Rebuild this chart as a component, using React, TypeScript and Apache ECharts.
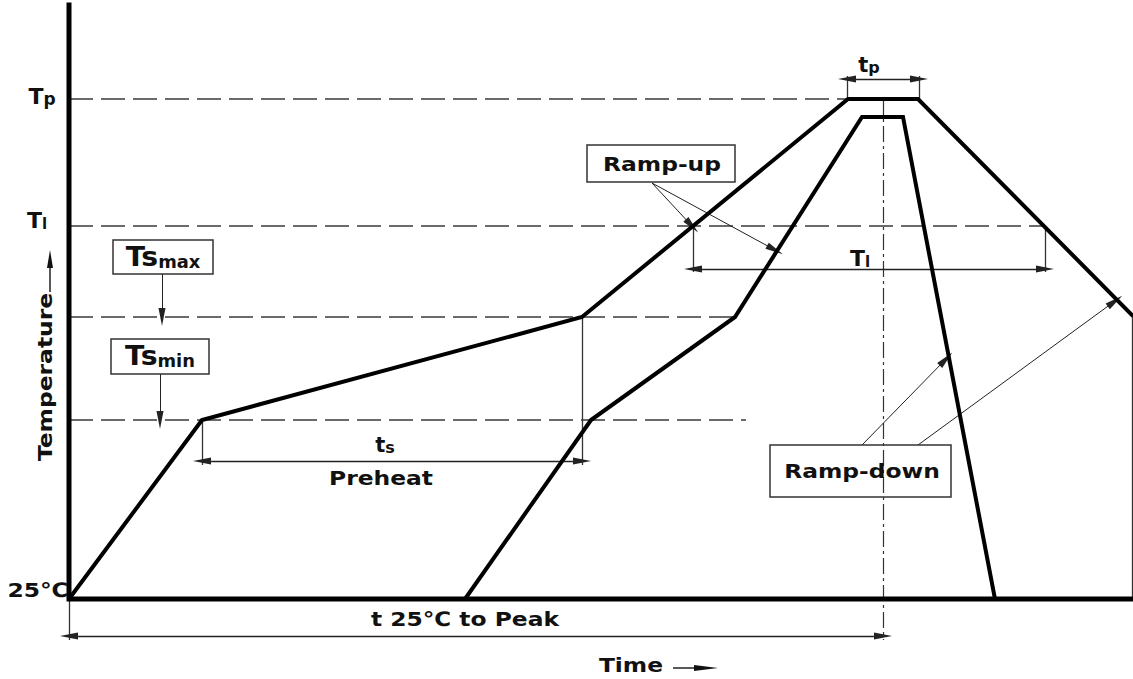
import React, { useEffect, useRef } from 'react';
import * as echarts from 'echarts';

type Pt = [number, number];

// Schematic reflow profile: x = time units from start, y = temperature units above 25 °C
const outerProfile: Pt[] = [[0, 0], [133, 179], [513, 282], [779, 500], [849, 500], [1064, 283]];
const innerProfile: Pt[] = [[396, 0], [522, 179], [666, 282], [793, 482], [834, 482], [926, 0]];
const axisFrame: Pt[] = [[0, 594], [0, 0], [1064, 0]];

// Temperature levels: Tp, Tl, Ts max, Ts min
const levelNames = ['Tp', 'Tl', 'Tsmax', 'Tsmin'];
const levelTemps = [500, 373, 282, 179];
const levelDashEnd = [779, 976, 666, 677];

// Time spans
const peakTime = 814;
const tsSpan = [133, 513];
const tlSpan = [624, 976];
const tpSpan = [779, 849];
const toPeakSpan = [0, 814];
const tsDimTemp = 138;
const tlDimTemp = 330;
const tpDimTemp = 520;
const toPeakDimTemp = -37;
const belowAxis = -41;
const rightEdgeTime = 1063;
const rightEdgeTemp = 283;

// Callout pointer arrows (from label box to curve)
const pointerFrom: Pt[] = [[93, 325], [91, 225], [583, 416], [583, 416], [793, 154], [849, 154]];
const pointerTo: Pt[] = [[93, 282], [91, 179], [623, 373], [706, 349], [877, 240], [1046, 298]];

const FONT = 'DejaVu Sans';
const ARROW_SIZE = [7, 18];

const plain = (a: Pt, b: Pt) => [
  { coord: a, symbol: 'none' },
  { coord: b, symbol: 'none' },
];
const oneArrow = (a: Pt, b: Pt) => [
  { coord: a, symbol: 'none' },
  { coord: b, symbol: 'triangle', symbolSize: ARROW_SIZE },
];
const twoArrows = (a: Pt, b: Pt) => [
  { coord: a, symbol: 'triangle', symbolSize: ARROW_SIZE },
  { coord: b, symbol: 'triangle', symbolSize: ARROW_SIZE },
];

const markBase = {
  silent: true,
  symbol: 'none',
  label: { show: false },
  emphasis: { disabled: true },
  animation: false,
};

const text = (
  x: number,
  y: number,
  str: string,
  rich: any,
  opts: { sx?: number; rot?: number; size?: number } = {}
) => ({
  type: 'text',
  x,
  y,
  scaleX: opts.sx ?? 1,
  rotation: opts.rot ?? 0,
  z: 20,
  silent: true,
  style: {
    text: str,
    rich,
    fill: '#111',
    fontFamily: FONT,
    fontWeight: 'bold',
    fontSize: opts.size ?? 20,
    align: 'center',
    verticalAlign: 'middle',
    textAlign: 'center',
    textVerticalAlign: 'middle',
  },
});

const sub = (big: number, small: number) => ({
  b: { fontSize: big, lineHeight: big, fontWeight: 'bold', fontFamily: FONT, fill: '#111', verticalAlign: 'bottom' },
  s: { fontSize: small, lineHeight: small, fontWeight: 'bold', fontFamily: FONT, fill: '#111', verticalAlign: 'bottom' },
});

const box = (x: number, y: number, w: number, h: number) => ({
  type: 'rect',
  shape: { x, y, width: w, height: h },
  z: 19,
  silent: true,
  style: { fill: 'none', stroke: '#333', lineWidth: 1.5 },
});

export default function App() {
  const ref = useRef<HTMLDivElement>(null);
  useEffect(() => {
    const chart = echarts.init(ref.current!, null, { renderer: 'svg' });

    const extLines: [Pt, Pt][] = [
      [[tsSpan[0], levelTemps[3]], [tsSpan[0], tsDimTemp - 4]],
      [[tsSpan[1], levelTemps[2]], [tsSpan[1], tsDimTemp - 4]],
      [[tlSpan[0], levelTemps[1]], [tlSpan[0], tlDimTemp - 3]],
      [[tlSpan[1], levelTemps[1]], [tlSpan[1], tlDimTemp - 3]],
      [[tpSpan[0] - 1, levelTemps[0]], [tpSpan[0] - 1, tpDimTemp + 3]],
      [[tpSpan[1] + 1, levelTemps[0]], [tpSpan[1] + 1, tpDimTemp + 3]],
      [[0, 0], [0, belowAxis]],
      [[rightEdgeTime, rightEdgeTemp], [rightEdgeTime, 0]],
    ];
    const dimLines: [Pt, Pt][] = [
      [[tsSpan[0], tsDimTemp], [tsSpan[1], tsDimTemp]],
      [[tlSpan[0], tlDimTemp], [tlSpan[1], tlDimTemp]],
      [[tpSpan[0] - 1, tpDimTemp], [tpSpan[1] + 1, tpDimTemp]],
      [[toPeakSpan[0], toPeakDimTemp], [toPeakSpan[1], toPeakDimTemp]],
    ];

    const option: any = {
      animation: false,
      backgroundColor: '#fff',
      grid: { left: 0, right: 0, top: 0, bottom: 0 },
      xAxis: { type: 'value', min: -69, max: 1064, show: false },
      yAxis: { type: 'value', min: -80, max: 599, show: false },
      series: [
        {
          name: 'axes',
          type: 'line',
          data: axisFrame,
          symbol: 'none',
          silent: true,
          z: 6,
          lineStyle: { color: '#000', width: 5, join: 'miter', cap: 'square' },
        },
        {
          name: 'profile max',
          type: 'line',
          data: outerProfile,
          symbol: 'none',
          silent: true,
          z: 5,
          lineStyle: { color: '#000', width: 4, join: 'miter' },
        },
        {
          name: 'profile min',
          type: 'line',
          data: innerProfile,
          symbol: 'none',
          silent: true,
          z: 5,
          lineStyle: { color: '#000', width: 4, join: 'miter' },
        },
        {
          name: 'levels',
          type: 'line',
          data: [],
          z: 3,
          markLine: {
            ...markBase,
            lineStyle: { color: '#3a3a3a', width: 1.5, type: [24, 8] },
            data: levelTemps.map((t, i) => [
              { coord: [0, t], symbol: 'none', name: levelNames[i] },
              { coord: [levelDashEnd[i], t], symbol: 'none' },
            ]),
          },
        },
        {
          name: 'peak',
          type: 'line',
          data: [],
          z: 3,
          markLine: {
            ...markBase,
            lineStyle: { color: '#333', width: 1.2, type: [16, 4, 3, 4] },
            data: [plain([peakTime, levelTemps[0]], [peakTime, belowAxis])],
          },
        },
        {
          name: 'extensions',
          type: 'line',
          data: [],
          z: 3,
          markLine: {
            ...markBase,
            lineStyle: { color: '#333', width: 1.3, type: 'solid' },
            data: extLines.map(([a, b]) => plain(a, b)),
          },
        },
        {
          name: 'dimensions',
          type: 'line',
          data: [],
          z: 3,
          markLine: {
            ...markBase,
            lineStyle: { color: '#222', width: 1.3, type: 'solid' },
            itemStyle: { color: '#111' },
            data: dimLines.map(([a, b]) => twoArrows(a, b)),
          },
        },
        {
          name: 'pointers',
          type: 'line',
          data: [],
          z: 3,
          markLine: {
            ...markBase,
            lineStyle: { color: '#222', width: 1, type: 'solid' },
            itemStyle: { color: '#111' },
            data: pointerFrom.map((a, i) => oneArrow(a, pointerTo[i])),
          },
        },
      ],
      graphic: [
        text(42, 96, '{b|T}{s|p}', sub(22, 17)),
        text(37, 220, '{b|T}{s|l}', sub(22, 15)),
        text(38, 590, '25℃', undefined, { sx: 1.17 }),
        box(113, 240, 100, 34),
        text(163, 257, '{b|Ts}{s|max}', sub(27, 17), { sx: 1.05 }),
        box(111, 339, 98, 35),
        text(160, 356, '{b|Ts}{s|min}', sub(27, 17), { sx: 1.05 }),
        box(587, 145, 148, 37),
        text(662, 164, 'Ramp-up', undefined, { sx: 1.17 }),
        box(770, 445, 181, 52),
        text(862, 471, 'Ramp-down', undefined, { sx: 1.17 }),
        text(385, 445, '{b|t}{s|s}', sub(21, 16)),
        text(381, 478, 'Preheat', undefined, { sx: 1.17 }),
        text(860, 258, '{b|T}{s|l}', sub(22, 15)),
        text(869, 65, '{b|t}{s|p}', sub(21, 16)),
        text(465, 619, 't 25℃ to Peak', undefined, { sx: 1.17 }),
        text(631, 665, 'Time', undefined, { sx: 1.17 }),
        {
          type: 'line',
          silent: true,
          shape: { x1: 673, y1: 668, x2: 700, y2: 668 },
          style: { stroke: '#222', lineWidth: 1.5 },
        },
        {
          type: 'polygon',
          silent: true,
          shape: { points: [[694, 665], [718, 668], [694, 671]] },
          style: { fill: '#111' },
        },
        text(45, 377, 'Temperature', undefined, { sx: 1.17, rot: Math.PI / 2 }),
        {
          type: 'line',
          silent: true,
          shape: { x1: 50, y1: 292, x2: 50, y2: 264 },
          style: { stroke: '#222', lineWidth: 1.5 },
        },
        {
          type: 'polygon',
          silent: true,
          shape: { points: [[47, 268], [50, 250], [53, 268]] },
          style: { fill: '#111' },
        },
      ],
    };

    chart.setOption(option);
    return () => chart.dispose();
  }, []);

  return (
    <div
      ref={ref}
      style={{ position: 'fixed', left: 0, top: 0, width: 1133, height: 679, background: '#fff' }}
    />
  );
}
